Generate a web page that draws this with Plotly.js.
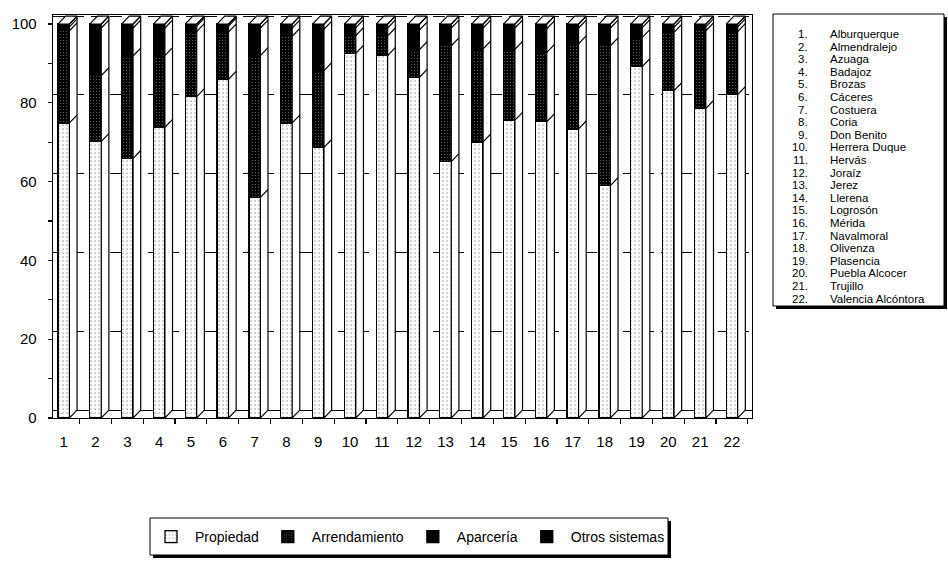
<!DOCTYPE html>
<html><head><meta charset="utf-8">
<script src="https://cdn.plot.ly/plotly-3.0.1.min.js"></script>
<style>html,body{margin:0;padding:0;background:#fff}#chart{width:948px;height:579px}</style>
</head><body><div id="chart"></div>
<script>
const categories = ['1','2','3','4','5','6','7','8','9','10','11','12','13','14','15','16','17','18','19','20','21','22'];
const municipios = ['Alburquerque','Almendralejo','Azuaga','Badajoz','Brozas','Cáceres','Costuera','Coria','Don Benito','Herrera Duque','Hervás','Joraíz','Jerez','Llerena','Logrosón','Mérida','Navalmoral','Olivenza','Plasencia','Puebla Alcocer','Trujillo','Valencia Alcóntora'];
const propiedad     = [74.9, 70.2, 65.9, 73.8, 81.6, 86.0, 56.0, 74.9, 68.7, 92.6, 92.0, 86.5, 65.1, 70.1, 75.6, 75.2, 73.4, 59.0, 89.2, 83.1, 78.6, 82.1];
const arrendamiento = [23.4, 16.7, 26.0, 18.2, 16.5, 12.0, 36.0, 22.0, 19.5, 4.5, 5.0, 7.0, 29.4, 23.6, 18.0, 17.6, 21.6, 35.5, 7.4, 14.8, 19.7, 16.0];
const aparceria     = [1.0, 12.1, 7.1, 7.0, 1.4, 1.5, 7.0, 2.1, 10.5, 2.0, 2.0, 5.0, 4.5, 5.3, 5.4, 6.0, 4.0, 4.5, 2.5, 1.3, 1.0, 1.2];
const otros         = [0.7, 1.0, 1.0, 1.0, 0.5, 0.5, 1.0, 1.0, 1.3, 0.9, 1.0, 1.5, 1.0, 1.0, 1.0, 1.2, 1.0, 1.0, 0.9, 0.8, 0.7, 0.7];
const seriesNames = ['Propiedad','Arrendamiento','Aparcería','Otros sistemas'];
const yTicks = [0,20,40,60,80,100];

const L=53, R=752, T=15, B=418;
const px = x => (x-L)/(R-L);
const py = y => (B-y)/(B-T);
const FONT = 'Liberation Sans, Arial, sans-serif';

const xs = categories.map((c,i)=>i+1);
const BW = 0.36, h = BW/2, dx = 0.24, dy = 2;

const barLine = {color:'#000', width:1.3};
const traces = [
  {type:'bar', name:seriesNames[0], x:xs, y:propiedad, width:BW,
   marker:{color:'#fff', line:barLine, pattern:{shape:'.', fgcolor:'#444', bgcolor:'#fff', size:4, solidity:0.14, fillmode:'overlay'}}},
  {type:'bar', name:seriesNames[1], x:xs, y:arrendamiento, width:BW,
   marker:{color:'#000', line:barLine, pattern:{shape:'.', fgcolor:'#6a6a6a', bgcolor:'#000', size:3, solidity:0.12, fillmode:'replace'}}},
  {type:'bar', name:seriesNames[2], x:xs, y:aparceria, width:BW, marker:{color:'#000', line:barLine}},
  {type:'bar', name:seriesNames[3], x:xs, y:otros, width:BW, marker:{color:'#000', line:barLine}}
];

// 3D side & top faces derived from the data
const totals = xs.map((x,i)=>propiedad[i]+arrendamiento[i]+aparceria[i]+otros[i]);
const sx=[], sy=[], nx=[], ny=[];
xs.forEach((x,i)=>{
  const t = totals[i];
  sx.push(x+h, x+h+dx, x+h+dx, x+h, x+h, null); sy.push(0, dy, t+dy, t, 0, null);
  sx.push(x-h, x-h+dx, x+h+dx, x+h, x-h, null); sy.push(t, t+dy, t+dy, t, t, null);
  const c1 = propiedad[i], c2 = propiedad[i]+arrendamiento[i], c3 = c2+aparceria[i];
  [c1,c2,c3].forEach(c=>{ nx.push(x+h, x+h+dx, null); ny.push(c, c+dy, null); });
});
traces.push({type:'scatter', mode:'lines', x:sx, y:sy, fill:'toself', fillcolor:'#fff', line:{color:'#000', width:1.2}, showlegend:false, hoverinfo:'skip'});
traces.push({type:'scatter', mode:'lines', x:nx, y:ny, line:{color:'#000', width:1.2}, showlegend:false, hoverinfo:'skip'});
traces.push({type:'scatter', mode:'none', x:[xs[0]], y:[0], yaxis:'y2', showlegend:false, hoverinfo:'skip'});

const annotations = [];
municipios.forEach((n,i)=>{
  const yy = py(34 + i*12.6);
  annotations.push({xref:'paper', yref:'paper', x:px(809), y:yy, xanchor:'right', yanchor:'middle', text:(i+1)+'.', showarrow:false, borderpad:0, font:{family:FONT, size:11.5, color:'#000'}});
  annotations.push({xref:'paper', yref:'paper', x:px(829), y:yy, xanchor:'left', yanchor:'middle', text:n, showarrow:false, borderpad:0, font:{family:FONT, size:11.5, color:'#000'}});
});

const shapes = [
  {type:'rect', xref:'paper', yref:'paper', x0:px(776), x1:px(947), y0:py(17), y1:py(309), fillcolor:'#000', line:{width:0}},
  {type:'rect', xref:'paper', yref:'paper', x0:px(773), x1:px(944), y0:py(14), y1:py(306), fillcolor:'#fff', line:{color:'#000', width:1}},
  {type:'rect', xref:'paper', yref:'paper', x0:px(153), x1:px(671), y0:py(521), y1:py(558), fillcolor:'#000', line:{width:0}},
  {type:'rect', xref:'paper', yref:'paper', x0:px(150), x1:px(668), y0:py(518), y1:py(555), fillcolor:'#fff', line:{color:'#000', width:1}}
];

const layout = {
  width:948, height:579,
  margin:{l:L, r:948-R, t:T, b:579-B, pad:0},
  paper_bgcolor:'#fff', plot_bgcolor:'rgba(0,0,0,0)',
  barmode:'stack', bargap:0,
  font:{family:FONT, color:'#000'},
  showlegend:true,
  legend:{orientation:'h', x:px(147), y:py(521), xanchor:'left', yanchor:'top', bgcolor:'rgba(0,0,0,0)', borderwidth:0,
          font:{family:FONT, size:14, color:'#000'}, traceorder:'normal', itemwidth:38},
  xaxis:{type:'linear', range:[0.664, 22.63], tickmode:'array', tickvals:xs, ticktext:categories, ticks:'',
         ticklabelstandoff:10, tickfont:{family:FONT, size:15, color:'#000'},
         showgrid:false, zeroline:false, showline:true, linecolor:'#000', linewidth:1.3, mirror:true,
         minor:{tick0:0.5, dtick:1, ticks:'outside', ticklen:5, tickcolor:'#000', tickwidth:1.2, showgrid:false}},
  yaxis:{range:[0,102.3], tickmode:'array', tickvals:yTicks, ticktext:yTicks.map(String), ticks:'outside', ticklen:4, tickcolor:'#000', tickwidth:1.2,
         ticklabelstandoff:8, tickfont:{family:FONT, size:15, color:'#000'},
         showgrid:false, zeroline:false, showline:true, linecolor:'#000', linewidth:1.3, mirror:true,
         minor:{dtick:10, ticks:'outside', ticklen:4, tickcolor:'#000', tickwidth:1.2, showgrid:false}},
  yaxis2:{overlaying:'y', range:[-dy, 102.3-dy], tickmode:'array', tickvals:yTicks, showticklabels:false, ticks:'',
          showgrid:true, gridcolor:'#000', gridwidth:1, griddash:'12px,7px', zeroline:true, zerolinecolor:'#000', zerolinewidth:1, showline:false},
  annotations, shapes
};

Plotly.newPlot('chart', traces, layout, {displayModeBar:false, staticPlot:true});
</script>
</body></html>
